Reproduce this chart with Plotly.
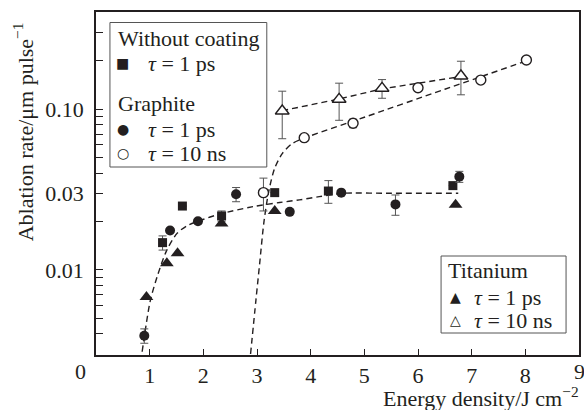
import plotly.graph_objects as go

# ---------------- data ----------------
# Without coating, tau = 1 ps (filled squares)
nc_x = [1.24, 1.61, 2.34, 3.33, 4.33, 6.65]
nc_y = [0.0148, 0.0250, 0.0217, 0.0303, 0.0310, 0.0335]
nc_err = [0.0015, 0, 0.0016, 0, 0.005, 0]

# Graphite, tau = 1 ps (filled circles)
gr1_x = [0.90, 1.38, 1.90, 2.61, 3.61, 4.57, 5.58, 6.77]
gr1_y = [0.0039, 0.0176, 0.0201, 0.0296, 0.0230, 0.0303, 0.0256, 0.0381]
gr1_err = [0.0004, 0, 0, 0.003, 0, 0, 0.0037, 0.003]

# Graphite, tau = 10 ns (open circles)
gr10_x = [3.12, 3.88, 4.79, 6.00, 7.17, 8.02]
gr10_y = [0.0303, 0.0666, 0.0818, 0.1362, 0.152, 0.2026]
gr10_err = [0.007, 0, 0.005, 0, 0, 0]

# Titanium, tau = 1 ps (filled triangles)
ti1_x = [0.94, 1.32, 1.52, 2.34, 3.33, 6.70]
ti1_y = [0.0068, 0.0110, 0.0127, 0.0195, 0.0233, 0.0255]

# Titanium, tau = 10 ns (open triangles)
ti10_x = [3.47, 4.53, 5.33, 6.80]
ti10_y = [0.0976, 0.1154, 0.1351, 0.1611]
ti10_err = [0.032, 0.030, 0.018, 0.038]

# dashed guide curves
fit_ps_x = [0.86, 1.01, 1.14, 1.32, 1.51, 1.69, 1.90, 2.31, 2.93, 3.42, 3.79, 4.16, 4.59, 5.50, 6.75]
fit_ps_y = [0.0031, 0.0064, 0.0091, 0.0133, 0.0169, 0.0188, 0.0201, 0.0223, 0.0248, 0.0263, 0.0273,
            0.0286, 0.0300, 0.0300, 0.0300]
fit_gr10_x = [2.88, 2.98, 3.05, 3.13, 3.22, 3.33, 3.47, 3.65, 3.90, 5.00, 6.50, 8.00]
fit_gr10_y = [0.0030, 0.0065, 0.0110, 0.0200, 0.0310, 0.0430, 0.0530, 0.0610, 0.0665, 0.0892,
              0.1333, 0.1990]
fit_ti10_x = [3.47, 4.53, 5.33, 6.80]
fit_ti10_y = [0.098, 0.116, 0.134, 0.160]

x_ticks = [1, 2, 3, 4, 5, 6, 7, 8]
y_ticks = [0.01, 0.03, 0.1]
y_tick_text = ["0.01", "0.03", "0.10"]
y_minor = [0.004, 0.005, 0.006, 0.007, 0.008, 0.009, 0.02,
           0.04, 0.05, 0.06, 0.07, 0.08, 0.09, 0.2, 0.3]

# ---------------- styling ----------------
INK = "#231f20"
FONT = "Liberation Serif"
FS = 22
W, H = 584, 410
L, R, T, B = 96, 3, 12, 55


def px(xp):
    return (xp - L) / (W - L - R)


def py(yp):
    return (H - B - yp) / (H - T - B)


dash = "6px,4px"
fig = go.Figure()
for fx, fy, shape in [(fit_ps_x, fit_ps_y, "spline"), (fit_gr10_x, fit_gr10_y, "spline"),
                      (fit_ti10_x, fit_ti10_y, "linear")]:
    fig.add_trace(go.Scatter(x=fx, y=fy, mode="lines",
                             line=dict(color=INK, width=1.4, dash=dash, shape=shape, smoothing=0.8),
                             hoverinfo="skip", showlegend=False))


def err(arr):
    return dict(type="data", array=arr, visible=True, color="#555", thickness=1, width=4)


def pts(x, y, symbol, size, fill, e=None):
    fig.add_trace(go.Scatter(
        x=x, y=y, mode="markers",
        marker=dict(symbol=symbol, size=size, color=fill,
                    line=dict(color=INK, width=1.4 if fill == "white" else 0)),
        error_y=err(e) if e else None, showlegend=False))


pts(gr10_x, gr10_y, "circle", 10, "white", gr10_err)
pts(ti10_x, ti10_y, "triangle-up", 12, "white", ti10_err)
pts(nc_x, nc_y, "square", 9, INK, nc_err)
pts(gr1_x, gr1_y, "circle", 10, INK, gr1_err)
pts(ti1_x, ti1_y, "triangle-up", 12, INK)

axis_common = dict(showline=True, linecolor=INK, linewidth=1.6, mirror=True,
                   ticks="inside", tickcolor=INK, tickwidth=1.3, showgrid=False, zeroline=False,
                   tickfont=dict(family=FONT, size=FS, color=INK))

fig.update_xaxes(range=[0, 9], tickvals=x_ticks, ticklen=6, **axis_common)
fig.update_yaxes(type="log", range=[-2.529, -0.3945], tickvals=y_ticks, ticktext=y_tick_text,
                 ticklen=7, ticklabelstandoff=6,
                 minor=dict(tickvals=y_minor, ticks="inside", ticklen=7, tickwidth=1.3,
                            tickcolor=INK, showgrid=False),
                 **axis_common)

ann = []


def text(t, xp, yp, xa="left", ya="middle", size=FS, family=FONT, angle=0):
    ann.append(dict(text=t, x=px(xp), y=py(yp), xref="paper", yref="paper",
                    xanchor=xa, yanchor=ya, showarrow=False, textangle=angle,
                    font=dict(family=family, size=size, color=INK)))


# axis titles and the "0" / "9" labels
text("0", 80, 372, xa="center")
text("9", 581, 372, xa="center")
text("Energy density/J cm<sup>−2</sup>", 583, 397, xa="right")
text("Ablation rate/μm pulse<sup>−1</sup>", 23, 132, xa="center", angle=-90)

# legend 1
text("Without coating", 116, 38)
text("■", 123, 63, xa="center", size=14, family="DejaVu Sans")
text("<i>τ</i> = 1 ps", 146, 63)
text("Graphite", 116, 103.5)
text("●", 123, 129, xa="center", size=14, family="DejaVu Sans")
text("<i>τ</i> = 1 ps", 146, 129)
text("○", 123, 153, xa="center", size=14, family="DejaVu Sans")
text("<i>τ</i> = 10 ns", 146, 153)
# legend 2
text("Titanium", 447, 270)
text("▲", 457, 297, xa="center", size=14, family="DejaVu Sans")
text("<i>τ</i> = 1 ps", 474, 297)
text("△", 457, 320, xa="center", size=14, family="DejaVu Sans")
text("<i>τ</i> = 10 ns", 474, 320)

shapes = [
    dict(type="rect", xref="paper", yref="paper", x0=px(110), x1=px(267.5), y0=py(167), y1=py(22.5),
         line=dict(color="#555", width=1), fillcolor="white", layer="below"),
    dict(type="rect", xref="paper", yref="paper", x0=px(442.5), x1=px(568), y0=py(333), y1=py(256),
         line=dict(color="#555", width=1), fillcolor="white", layer="below"),
]

fig.update_layout(width=W, height=H, margin=dict(l=L, r=R, t=T, b=B, pad=0),
                  paper_bgcolor="white", plot_bgcolor="white",
                  annotations=ann, shapes=shapes, showlegend=False,
                  font=dict(family=FONT, size=FS, color=INK))

fig.write_html("out.html")
